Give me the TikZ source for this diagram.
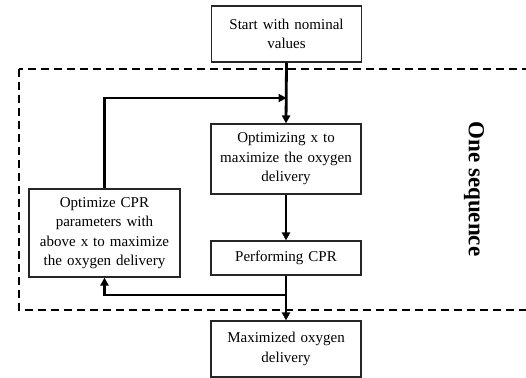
\documentclass[tikz,border=0pt]{standalone}
\usepackage{fontspec}
\setmainfont{Liberation Serif}
\usetikzlibrary{arrows.meta}
\begin{document}
\begin{tikzpicture}[x=1pt,y=-1pt,
  box/.style={draw=black!85,line width=1.1pt,minimum width=150pt,inner sep=0pt,
    text width=142pt,align=center,font=\fontsize{15}{19.5}\selectfont},
  flow/.style={line width=2.8pt,-{Triangle[length=8pt,width=8pt]}},
  link/.style={line width=2.8pt}]
\useasboundingbox (0,0) rectangle (526,377);
\clip (0,0) rectangle (526,377);
\draw[line width=1.8pt,dash pattern=on 8pt off 5pt] (19,69) rectangle (560,310);
\node[box,minimum height=56pt] (start) at (286.5,34) {Start with nominal\\values};
\node[box,minimum height=70pt] (opt) at (286,159) {Optimizing x to\\maximize the oxygen\\delivery};
\node[box,minimum height=34pt] (perf) at (286,258) {\raisebox{4pt}{Performing CPR}};
\node[box,minimum height=88pt,minimum width=151pt] (left) at (104.5,233) {Optimize CPR\\parameters with\\above x to maximize\\the oxygen delivery};
\node[box,minimum height=56pt] (max) at (286,349) {\raisebox{3pt}{\parbox{142pt}{\centering Maximized oxygen\\delivery}}};
\coordinate (top) at (start.south |- 0,98);
\coordinate (split) at (perf.south |- 0,295);
\draw[flow] (start.south) -- (opt.north);
\draw[flow] (opt.south) -- (perf.north);
\draw[flow] (left.north) |- (top);
\draw[flow] (perf.south) -- (max.north);
\draw[flow] (split) -| (left.south);
\node[rotate=-90,font=\fontsize{23}{26}\selectfont\bfseries] (seq) at (474,189) {One sequence};
\end{tikzpicture}
\end{document}
